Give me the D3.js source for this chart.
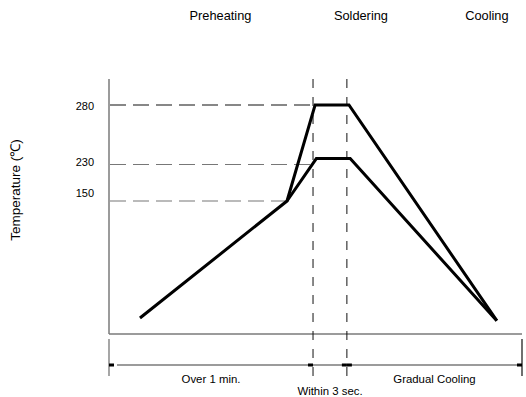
<!DOCTYPE html>
<html lang="en">
<head>
<meta charset="utf-8">
<title>Soldering profile</title>
<style>
  * { margin: 0; padding: 0; }
  body { background: #fff; font-family: 'Liberation Sans', Arial, sans-serif; }
  svg { display: block; }
</style>
</head>
<body>
<div id="chart"></div>
<script src="https://d3js.org/d3.v7.min.js"></script>
<script>
// schematic profile: t in arbitrary units (0..100), temp in degC
var phases = ["Preheating", "Soldering", "Cooling"];
var phaseLabelX = [27, 61, 91.5];
var bounds = [0, 49.4, 57.6, 100];
var spanLabels = ["Over 1 min.", "Within 3 sec.", "Gradual Cooling"];
var tempTicks = [280, 230, 150];

var upperT = [7.5, 43.1, 49.9, 58.1, 93.9];
var upperV = [18, 150, 280, 280, 15];
var lowerT = [43.1, 50.2, 58.4, 93.9];
var lowerV = [150, 235, 235, 15];

// where each reference line stops
var refEndT = [49.4, 49.9, 43.1];

var width = 526, height = 397;

var svg = d3.select("#chart").append("svg")
    .attr("width", width)
    .attr("height", height);

var x = d3.scaleLinear().domain([0, 100]).range([109, 522]);
// the drawing is not to scale, so the temperature axis is piecewise
var y = d3.scaleLinear().domain([0, 150, 230, 280, 302]).range([334, 201, 164.5, 105, 79]);

var line = d3.line().x(function (d) { return x(d[0]); }).y(function (d) { return y(d[1]); });

// phase titles
svg.selectAll(".phase")
    .data(phases)
    .enter().append("text")
    .attr("x", function (d, i) { return x(phaseLabelX[i]); })
    .attr("y", 20)
    .attr("text-anchor", "middle")
    .style("font-size", "12.8px")
    .text(function (d) { return d; });

// axes
svg.append("line")
    .attr("x1", x(0)).attr("x2", x(0))
    .attr("y1", y(302)).attr("y2", y(0))
    .style("stroke", "#7a7a7a").style("stroke-width", 1.5);
svg.append("line")
    .attr("x1", x(0)).attr("x2", x(100))
    .attr("y1", y(0)).attr("y2", y(0))
    .style("stroke", "#7a7a7a").style("stroke-width", 1.5);

// reference temperatures
svg.selectAll(".ref")
    .data(tempTicks)
    .enter().append("line")
    .attr("x1", x(0))
    .attr("x2", function (d, i) { return x(refEndT[i]); })
    .attr("y1", function (d) { return y(d); })
    .attr("y2", function (d) { return y(d); })
    .style("stroke", function (d, i) { return i == 0 ? "#111" : "#777"; })
    .style("stroke-width", 1.2)
    .style("stroke-dasharray", "16,7")
    .style("stroke-dashoffset", -1);

var labelDy = [5, 1, -4];
svg.selectAll(".tick")
    .data(tempTicks)
    .enter().append("text")
    .attr("x", 94)
    .attr("y", function (d, i) { return y(d) + labelDy[i]; })
    .attr("text-anchor", "end")
    .style("font-size", "11px")
    .text(function (d) { return d; });

svg.append("text")
    .attr("transform", "translate(20,190) rotate(-90)")
    .attr("text-anchor", "middle")
    .style("font-size", "13.5px")
    .text("Temperature (\u2103)");

// soldering window
svg.selectAll(".win")
    .data(bounds.slice(1, 3))
    .enter().append("line")
    .attr("x1", function (d) { return x(d); })
    .attr("x2", function (d) { return x(d); })
    .attr("y1", y(302))
    .attr("y2", 376)
    .style("stroke", "#111")
    .style("stroke-width", 1)
    .style("stroke-dasharray", "9,9");

// profile lines
svg.append("path")
    .attr("d", line(d3.zip(upperT, upperV)))
    .style("fill", "none").style("stroke", "#000")
    .style("stroke-width", 3).style("stroke-linejoin", "miter");
svg.append("path")
    .attr("d", line(d3.zip(lowerT, lowerV)))
    .style("fill", "none").style("stroke", "#000")
    .style("stroke-width", 3).style("stroke-linejoin", "miter");

// dimension line
var dimY = 365;
svg.selectAll(".ext")
    .data([0, 100])
    .enter().append("line")
    .attr("x1", function (d) { return x(d); })
    .attr("x2", function (d) { return x(d); })
    .attr("y1", 339).attr("y2", 376)
    .style("stroke", function (d) { return d == 0 ? "#777" : "#222"; })
    .style("stroke-width", 1.3);
svg.append("line")
    .attr("x1", x(0) + 8).attr("x2", x(100))
    .attr("y1", dimY).attr("y2", dimY)
    .style("stroke", "#7a7a7a").style("stroke-width", 1.5);

// arrow heads as small black bars
var marks = [[0, 1], [49.4, -1], [57.6, -1], [57.6, 1], [100, -1]];
svg.selectAll(".mark")
    .data(marks)
    .enter().append("rect")
    .attr("x", function (d) { return d[1] > 0 ? x(d[0]) : x(d[0]) - 5; })
    .attr("y", dimY - 1.5)
    .attr("width", 5)
    .attr("height", 3)
    .style("fill", "#000");

var spanLabelY = [383, 395, 383];
svg.selectAll(".span")
    .data(spanLabels)
    .enter().append("text")
    .attr("x", function (d, i) { return i == 1 ? x(bounds[1]) + 17 : (x(bounds[i]) + x(bounds[i + 1])) / 2; })
    .attr("y", function (d, i) { return spanLabelY[i]; })
    .attr("text-anchor", "middle")
    .style("font-size", "11.4px")
    .text(function (d) { return d; });
</script>
</body>
</html>
